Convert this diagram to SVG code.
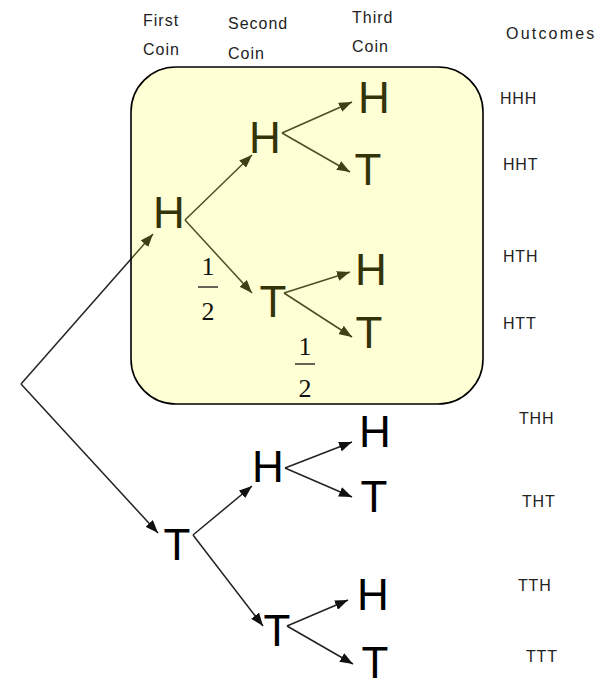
<svg xmlns="http://www.w3.org/2000/svg" width="608" height="687" viewBox="0 0 608 687">
  <defs>
    <marker id="arrow" markerUnits="userSpaceOnUse" markerWidth="14" markerHeight="10" refX="13" refY="5" orient="auto">
      <path d="M0,0 L13,5 L0,10 z" fill="#111"/>
    </marker>
    <style>
      .hdr { font-family: "Liberation Sans", Arial, sans-serif; font-size: 16px; letter-spacing: 1px; fill: #222; }
      .out { font-family: "Liberation Sans", Arial, sans-serif; font-size: 16px; letter-spacing: 0.8px; fill: #222; }
      .coin { font-family: "Liberation Sans", Arial, sans-serif; font-size: 44px; fill: #000; text-anchor: middle; }
      .frac { font-family: "Liberation Serif", "Times New Roman", serif; font-size: 26px; fill: #111; text-anchor: middle; }
      .edge { stroke: #222; stroke-width: 1.5; fill: none; marker-end: url(#arrow); }
      .bar { stroke: #111; stroke-width: 1.3; }
    </style>
  </defs>
  <rect width="608" height="687" fill="#fff"/>

  <!-- column headings -->
  <g id="headings" class="hdr">
    <text x="143" y="26">First</text>
    <text x="143" y="55">Coin</text>
    <text x="228" y="29">Second</text>
    <text x="228" y="59">Coin</text>
    <text x="352" y="23">Third</text>
    <text x="352" y="52">Coin</text>
    <text x="506" y="39" letter-spacing="2.2">Outcomes</text>
  </g>

  <!-- branches -->
  <g id="connectors">
    <line class="edge" x1="21" y1="384" x2="153" y2="234"/>
    <line class="edge" x1="21" y1="384" x2="158" y2="533"/>
    <line class="edge" x1="185" y1="220" x2="252" y2="155"/>
    <line class="edge" x1="185" y1="220" x2="252" y2="293"/>
    <line class="edge" x1="282" y1="133" x2="352" y2="102"/>
    <line class="edge" x1="282" y1="133" x2="350" y2="172"/>
    <line class="edge" x1="284" y1="293" x2="350" y2="272"/>
    <line class="edge" x1="284" y1="293" x2="352" y2="337"/>
    <line class="edge" x1="193" y1="535" x2="252" y2="486"/>
    <line class="edge" x1="193" y1="535" x2="263" y2="626"/>
    <line class="edge" x1="285" y1="468" x2="352" y2="442"/>
    <line class="edge" x1="285" y1="468" x2="352" y2="497"/>
    <line class="edge" x1="287" y1="626" x2="348" y2="600"/>
    <line class="edge" x1="287" y1="626" x2="353" y2="664"/>
  </g>

  <!-- first coin -->
  <g id="n-H"><text class="coin" x="169" y="228">H</text></g>
  <g id="n-T"><text class="coin" x="177" y="560">T</text></g>

  <!-- second coin -->
  <g id="n-HH"><text class="coin" x="265" y="153">H</text></g>
  <g id="n-HT"><text class="coin" x="273" y="317">T</text></g>
  <g id="n-TH"><text class="coin" x="268" y="482">H</text></g>
  <g id="n-TT"><text class="coin" x="277" y="646">T</text></g>

  <!-- third coin -->
  <g id="n-HHH"><text class="coin" x="374" y="113">H</text></g>
  <g id="n-HHT"><text class="coin" x="368" y="185">T</text></g>
  <g id="n-HTH"><text class="coin" x="371" y="285">H</text></g>
  <g id="n-HTT"><text class="coin" x="369" y="348">T</text></g>
  <g id="n-THH"><text class="coin" x="375" y="447">H</text></g>
  <g id="n-THT"><text class="coin" x="374" y="512">T</text></g>
  <g id="n-TTH"><text class="coin" x="373" y="610">H</text></g>
  <g id="n-TTT"><text class="coin" x="375" y="678">T</text></g>

  <!-- translucent highlight over the H branch -->
  <g id="highlight">
    <rect x="131" y="67" width="352" height="337" rx="45" ry="45" fill="#ffff33" fill-opacity="0.2" stroke="#000" stroke-width="1.6"/>
  </g>

  <!-- branch probabilities -->
  <g id="p-HT" class="frac">
    <text x="208" y="275">1</text>
    <line class="bar" x1="198" y1="287" x2="218" y2="287"/>
    <text x="208" y="320">2</text>
  </g>
  <g id="p-HTT" class="frac">
    <text x="305" y="355">1</text>
    <line class="bar" x1="295" y1="364" x2="315" y2="364"/>
    <text x="305" y="397">2</text>
  </g>

  <!-- outcome list -->
  <g id="outcomes" class="out">
    <text x="500" y="104">HHH</text>
    <text x="503" y="170">HHT</text>
    <text x="503" y="262">HTH</text>
    <text x="503" y="329">HTT</text>
    <text x="519" y="424">THH</text>
    <text x="522" y="507">THT</text>
    <text x="518" y="591">TTH</text>
    <text x="526" y="662">TTT</text>
  </g>
</svg>
